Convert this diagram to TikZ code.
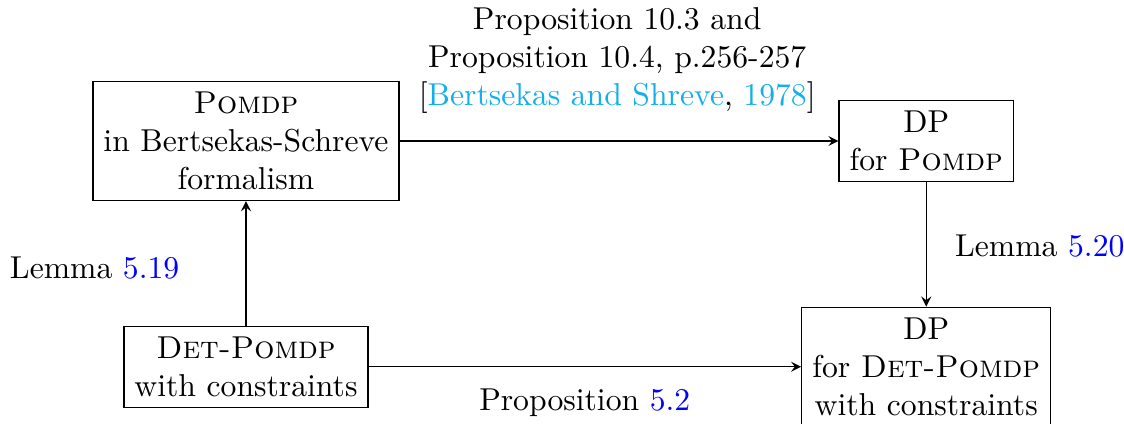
\documentclass[tikz,border=0pt]{standalone}
\usepackage{tikz}
\usetikzlibrary{arrows}
\definecolor{citecol}{RGB}{20,175,235}
\tikzset{box/.style={draw, align=center},
	lbl/.style={align=center},
	link/.style={->, >=stealth}}

\begin{document}
\begin{tikzpicture}
		%%%%% START %%%%%
		\useasboundingbox (0, 0) rectangle (12.475, -4.695);
		
		\node[box] (pomdp) at (2.73, -1.565) {\textsc{Pomdp}\\in Bertsekas-Schreve\\formalism};
		\node[box] (dppomdp) at (10.28, -1.565) {DP\\for \textsc{Pomdp}};
		\node[box] (det) at (2.73, -4.07) {\textsc{Det-Pomdp}\\with constraints};
		\node[box] (dpdet) at (10.28, -4.07) {DP\\for \textsc{Det-Pomdp}\\with constraints};
		
		\draw[link] (pomdp) -- (dppomdp);
		\draw[link] (dppomdp) -- (dpdet);
		\draw[link] (det) -- (pomdp);
		\draw[link] (det) -- (dpdet);
		
		\node[lbl] (prop103) at (6.85, -0.666) {Proposition 10.3 and\\Proposition 10.4, p.256-257\\{[}\textcolor{citecol}{Bertsekas and Shreve}, \textcolor{citecol}{1978}{]}};
		\node[lbl] (lem519) at (1.05, -2.97) {Lemma \textcolor{blue}{5.19}};
		\node[lbl] (lem520) at (11.54, -2.73) {Lemma \textcolor{blue}{5.20}};
		\node[lbl] (prop52) at (6.49, -4.47) {Proposition \textcolor{blue}{5.2}};
		
		%%%%% END %%%%%
	\end{tikzpicture}
\end{document}
